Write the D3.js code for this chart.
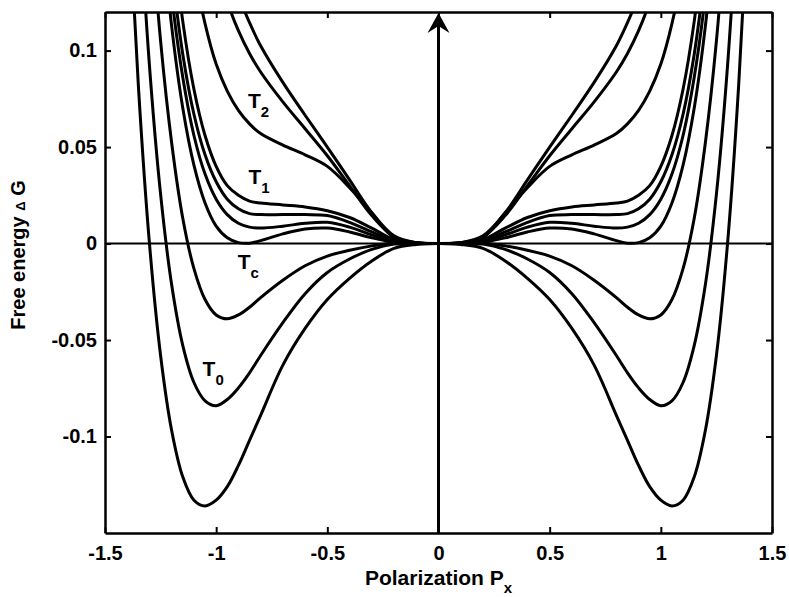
<!DOCTYPE html>
<html>
<head>
<meta charset="utf-8">
<script src="https://cdn.jsdelivr.net/npm/d3@7/dist/d3.min.js"></script>
<style>
  html, body { margin: 0; padding: 0; background: #fff; }
  svg { display: block; }
  text { font-family: "Liberation Sans", Arial, Helvetica, sans-serif; font-weight: bold; fill: #000; }
</style>
</head>
<body>
<svg id="chart" width="789" height="597"></svg>
<script>
// Polarization samples (right half; ΔG is even in P, so each curve is mirrored)
const polarization = [0, 0.1, 0.2, 0.3, 0.4, 0.5, 0.6, 0.7, 0.8, 0.85, 0.9, 0.95, 1.0, 1.05, 1.1, 1.15, 1.2, 1.25, 1.3, 1.35, 1.4];

// Free energy ΔG for each temperature, lowest curve first
const gBelowT0 = [0, -0.0005, -0.0025, -0.009, -0.018, -0.029, -0.044, -0.063, -0.089, -0.102, -0.115, -0.126, -0.133, -0.136, -0.133, -0.121, -0.097, -0.058, 0.000, 0.082, 0.194];
const gT0      = [0, -0.0001, -0.0003, -0.003, -0.008, -0.015, -0.026, -0.041, -0.058, -0.067, -0.0748, -0.0808, -0.084, -0.0815, -0.072, -0.0529, -0.0215, 0.0256, 0.0921, 0.1826];
const gMid     = [0, 0.0001, 0.0003, -0.0012, -0.0035, -0.0065, -0.0115, -0.019, -0.028, -0.033, -0.037, -0.039, -0.037, -0.029, -0.013, 0.013, 0.052, 0.105, 0.178];
const gTc      = [0, 0.0002, 0.0008, 0.003, 0.006, 0.008, 0.0075, 0.005, 0.0015, 0.0002, 0.0005, 0.003, 0.009, 0.021, 0.0406, 0.0701, 0.1124, 0.171];
const gAboveTc = [0, 0.0002, 0.001, 0.0045, 0.0085, 0.011, 0.0105, 0.009, 0.008, 0.0085, 0.0105, 0.015, 0.023, 0.036, 0.056, 0.086, 0.128, 0.185];
const gNearT1  = [0, 0.0002, 0.0015, 0.006, 0.011, 0.0145, 0.015, 0.015, 0.015, 0.0155, 0.018, 0.023, 0.032, 0.046, 0.067, 0.098, 0.142];
const gT1      = [0, 0.0003, 0.002, 0.008, 0.0135, 0.017, 0.019, 0.020, 0.021, 0.022, 0.025, 0.030, 0.040, 0.056, 0.080, 0.115, 0.165];
const gT2      = [0, 0.0003, 0.003, 0.016, 0.029, 0.040, 0.046, 0.051, 0.057, 0.062, 0.069, 0.079, 0.093, 0.114, 0.143, 0.184];
const gHigh1   = [0, 0.0004, 0.0035, 0.0145, 0.030, 0.0455, 0.0595, 0.0734, 0.0889, 0.0985, 0.1103, 0.1253, 0.145, 0.17];
const gHigh2   = [0, 0.0004, 0.004, 0.016, 0.033, 0.050, 0.0665, 0.0835, 0.1025, 0.1145, 0.1285, 0.146, 0.168];

const curves = [gBelowT0, gT0, gMid, gTc, gAboveTc, gNearT1, gT1, gT2, gHigh1, gHigh2];

const xTicks = [-1.5, -1, -0.5, 0, 0.5, 1, 1.5];
const yTicks = [-0.1, -0.05, 0, 0.05, 0.1];
const xTickLabels = ["-1.5", "-1", "-0.5", "0", "0.5", "1", "1.5"];
const yTickLabels = ["-0.1", "-0.05", "0", "0.05", "0.1"];

const tempLabels = [
  { main: "T", sub: "2", p: -0.857, g: 0.0705 },
  { main: "T", sub: "1", p: -0.855, g: 0.0310 },
  { main: "T", sub: "c", p: -0.903, g: -0.0130 },
  { main: "T", sub: "0", p: -1.061, g: -0.0685 }
];

const svg = d3.select("#chart");
const W = 789, H = 597;
const margin = { left: 105, right: 17, top: 12, bottom: 64 };
const x0 = margin.left, x1 = W - margin.right, y0 = margin.top, y1 = H - margin.bottom;

const x = d3.scaleLinear().domain([-1.5, 1.5]).range([x0, x1]);
const y = d3.scaleLinear().domain([-0.15, 0.12]).range([y1, y0]);

svg.append("rect").attr("width", W).attr("height", H).attr("fill", "#fff");

svg.append("defs").append("clipPath").attr("id", "plot-clip")
  .append("rect").attr("x", x0).attr("y", y0).attr("width", x1 - x0).attr("height", y1 - y0);

// Zero level
svg.append("line")
  .attr("x1", x0).attr("x2", x1)
  .attr("y1", y(0)).attr("y2", y(0))
  .attr("stroke", "#000").attr("stroke-width", 2);

// Free-energy curves, mirrored about P = 0
const line = d3.line()
  .x(d => x(d[0]))
  .y(d => y(d[1]))
  .curve(d3.curveCatmullRom.alpha(0.5));

const plot = svg.append("g").attr("clip-path", "url(#plot-clip)");
curves.forEach(vals => {
  const right = vals.map((g, i) => [polarization[i], g]);
  const left = right.slice(1).map(d => [-d[0], d[1]]).reverse();
  plot.append("path")
    .datum(left.concat(right))
    .attr("fill", "none")
    .attr("stroke", "#000")
    .attr("stroke-width", 3)
    .attr("stroke-linejoin", "round")
    .attr("d", line);
});

// Vertical arrow along P = 0
svg.append("line")
  .attr("x1", x(0)).attr("x2", x(0))
  .attr("y1", y1).attr("y2", y0 + 14)
  .attr("stroke", "#000").attr("stroke-width", 3);
const ax = x(0), ay = y0 + 1;
svg.append("path")
  .attr("d", `M${ax},${ay} L${ax + 11},${ay + 20} L${ax},${ay + 13} L${ax - 11},${ay + 20} Z`)
  .attr("fill", "#000");

// Axes box with inward ticks
const bottomAxis = d3.axisBottom(x).tickValues(xTicks).tickSizeInner(-6).tickSizeOuter(0).tickFormat((d, i) => xTickLabels[i]);
const topAxis = d3.axisTop(x).tickValues(xTicks).tickSizeInner(-6).tickSizeOuter(0).tickFormat("");
const leftAxis = d3.axisLeft(y).tickValues(yTicks).tickSizeInner(-6).tickSizeOuter(0).tickFormat((d, i) => yTickLabels[i]);
const rightAxis = d3.axisRight(y).tickValues(yTicks).tickSizeInner(-6).tickSizeOuter(0).tickFormat("");

function styleAxis(g) {
  g.select(".domain").attr("stroke", "#000").attr("stroke-width", 2.5);
  g.selectAll(".tick line").attr("stroke", "#000").attr("stroke-width", 2);
  g.selectAll(".tick text").attr("font-size", 20).attr("fill", "#000");
}

svg.append("g").attr("transform", `translate(0,${y1})`).call(bottomAxis).call(styleAxis)
  .selectAll(".tick text").attr("dy", null).attr("y", 27);
svg.append("g").attr("transform", `translate(0,${y0})`).call(topAxis).call(styleAxis);
svg.append("g").attr("transform", `translate(${x0},0)`).call(leftAxis).call(styleAxis)
  .selectAll(".tick text").attr("x", -8);
svg.append("g").attr("transform", `translate(${x1},0)`).call(rightAxis).call(styleAxis);

// Axis titles
const xt = svg.append("text").attr("x", (x0 + x1) / 2).attr("y", 585)
  .attr("text-anchor", "middle").attr("font-size", 21);
xt.append("tspan").text("Polarization P");
xt.append("tspan").attr("font-size", 15).attr("dy", 8).text("x");

const yt = svg.append("text")
  .attr("transform", "translate(25,255) rotate(-90)")
  .attr("text-anchor", "middle").attr("font-size", 20);
yt.append("tspan").text("Free energy ");
yt.append("tspan").attr("font-size", 13).text("\u0394");
yt.append("tspan").text(" G");

// Temperature labels
tempLabels.forEach(t => {
  const tx = svg.append("text").attr("x", x(t.p)).attr("y", y(t.g)).attr("font-size", 21);
  tx.append("tspan").text(t.main);
  tx.append("tspan").attr("font-size", 15).attr("dy", 9).text(t.sub);
});
</script>
</body>
</html>
